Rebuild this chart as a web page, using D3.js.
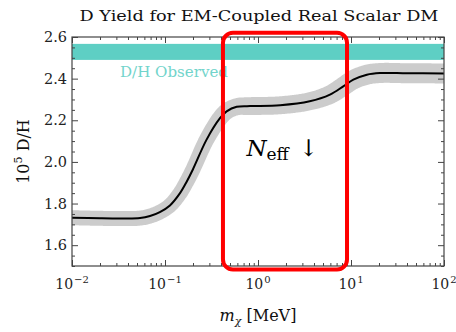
<!DOCTYPE html>
<html>
<head>
<meta charset="utf-8">
<script src="https://cdn.jsdelivr.net/npm/d3@7"></script>
<style>
  body { margin: 0; background: #fff; }
  text { font-family: "DejaVu Serif", serif; }
</style>
</head>
<body>
<div id="graph"></div>
<script>
// Yield curve (mass in MeV, 10^5 D/H)
var massValues = [0.01, 0.02, 0.035, 0.054, 0.069, 0.088, 0.113, 0.145, 0.171, 0.2, 0.28, 0.39, 0.46, 0.59, 0.82, 1.73, 3.6, 5.94, 8.26, 10.6, 14.8, 20.5, 40, 100];
var yieldValues = [1.732, 1.729, 1.728, 1.73, 1.74, 1.759, 1.791, 1.85, 1.905, 1.965, 2.107, 2.21, 2.243, 2.265, 2.268, 2.272, 2.291, 2.323, 2.363, 2.395, 2.419, 2.427, 2.426, 2.425];
// half width of the grey uncertainty band at each point (10^5 D/H)
var bandHalf = [0.036, 0.036, 0.036, 0.036, 0.036, 0.036, 0.036, 0.036, 0.036, 0.036, 0.037, 0.039, 0.04, 0.041, 0.043, 0.043, 0.043, 0.045, 0.046, 0.047, 0.048, 0.048, 0.048, 0.048];
var observedBand = [2.49, 2.567];
var xTickValues = [0.01, 0.1, 1, 10, 100];
var xTickLabels = ["−2", "−1", "0", "1", "2"];
var yTickValues = [1.6, 1.8, 2.0, 2.2, 2.4, 2.6];
var boxMass = [0.42, 9.06];
var boxYield = [1.483, 2.62];

var margin = {top: 37, right: 12, bottom: 66, left: 72},
  width = 456 - margin.left - margin.right,
  height = 332 - margin.top - margin.bottom;

var x = d3.scaleLog().domain([0.01, 100]).range([0, width]);
var y = d3.scaleLinear().domain([1.5, 2.6]).range([height, 0]);

var axisColor = "#444";

var svg = d3.select("#graph")
  .append("svg")
  .attr("width", 456)
  .attr("height", 332);

var g = svg.append("g")
  .attr("transform", "translate(" + margin.left + "," + margin.top + ")");

g.append("clipPath").attr("id", "clip")
  .append("rect").attr("width", width).attr("height", height);

var data = massValues.map(function (m, i) {
  return {m: m, v: yieldValues[i], e: bandHalf[i]};
});

// observed band
g.append("rect")
  .attr("x", 0)
  .attr("width", width)
  .attr("y", y(observedBand[1]))
  .attr("height", y(observedBand[0]) - y(observedBand[1]))
  .attr("fill", "#5ecfc4");

g.append("text")
  .attr("x", x(0.125))
  .attr("y", y(2.41))
  .attr("text-anchor", "middle")
  .attr("fill", "#72d4cb")
  .attr("textLength", 108)
  .attr("lengthAdjust", "spacingAndGlyphs")
  .style("font-size", "15px")
  .text("D/H Observed");

var line = d3.line()
  .x(function (d) { return x(d.m); })
  .y(function (d) { return y(d.v); })
  .curve(d3.curveCatmullRom.alpha(0.5));

var plot = g.append("g").attr("clip-path", "url(#clip)");

var band = plot.append("path")
  .attr("fill", "#cccccc");

var curve = plot.append("path")
  .datum(data)
  .attr("fill", "none")
  .attr("stroke", "#000")
  .attr("stroke-width", 2)
  .attr("d", line);

// grey band: offset the drawn curve along its normal by the band half width
var node = curve.node();
var total = node.getTotalLength();
var halfAt = d3.scaleLinear()
  .domain(massValues.map(function (m) { return Math.log10(m); }))
  .range(bandHalf.map(function (e) { return y(0) - y(e); }));
var upper = [], lower = [];
var steps = 400;
for (var i = 0; i <= steps; i++) {
  var p = node.getPointAtLength(total * i / steps);
  var a = node.getPointAtLength(Math.max(0, total * i / steps - 1));
  var b = node.getPointAtLength(Math.min(total, total * i / steps + 1));
  var dx = b.x - a.x, dy = b.y - a.y, len = Math.sqrt(dx * dx + dy * dy) || 1;
  var w = halfAt(Math.log10(x.invert(p.x)));
  var nx = -dy / len, ny = dx / len;
  upper.push([p.x + nx * w, p.y + ny * w]);
  lower.push([p.x - nx * w, p.y - ny * w]);
}
// extend beyond the frame so the clip gives straight ends
upper.unshift([upper[0][0] - 20, upper[0][1]]);
lower.unshift([lower[0][0] - 20, lower[0][1]]);
upper.push([upper[upper.length - 1][0] + 20, upper[upper.length - 1][1]]);
lower.push([lower[lower.length - 1][0] + 20, lower[lower.length - 1][1]]);
band.attr("d", d3.line()(upper.concat(lower.reverse())) + "Z");

// axes, ticks inward on all sides
var minorX = [];
[0.01, 0.1, 1, 10].forEach(function (d) {
  for (var k = 2; k <= 9; k++) minorX.push(d * k);
});
var minorY = d3.range(1.5, 2.6001, 0.05).filter(function (v) {
  return yTickValues.every(function (t) { return Math.abs(t - v) > 1e-6; });
});

function styleAxis(sel) {
  sel.select(".domain").remove();
  sel.selectAll("line").attr("stroke", axisColor);
}

function addAxis(axis, transform, values, size) {
  var a = g.append("g");
  if (transform) a.attr("transform", transform);
  a.call(axis.tickValues(values).tickSize(-size).tickFormat(""));
  styleAxis(a);
}

addAxis(d3.axisBottom(x), "translate(0," + height + ")", xTickValues, 6);
addAxis(d3.axisBottom(x), "translate(0," + height + ")", minorX, 3);
addAxis(d3.axisTop(x), null, xTickValues, 6);
addAxis(d3.axisTop(x), null, minorX, 3);
addAxis(d3.axisLeft(y), null, yTickValues, 6);
addAxis(d3.axisLeft(y), null, minorY, 3);
addAxis(d3.axisRight(y), "translate(" + width + ",0)", yTickValues, 6);
addAxis(d3.axisRight(y), "translate(" + width + ",0)", minorY, 3);

g.append("rect")
  .attr("width", width)
  .attr("height", height)
  .attr("fill", "none")
  .attr("stroke", axisColor)
  .attr("stroke-width", 1.2);

// tick labels
g.selectAll(".xlab")
  .data(xTickValues)
  .enter()
  .append("text")
  .attr("class", "xlab")
  .attr("x", function (d) { return x(d); })
  .attr("y", height + 23)
  .attr("text-anchor", "middle")
  .attr("fill", "#222")
  .style("font-size", "14px")
  .each(function (d, i) {
    var t = d3.select(this);
    t.append("tspan").text("10");
    t.append("tspan").attr("dy", -6).attr("dx", 1).style("font-size", "10px").text(xTickLabels[i]);
  });

g.selectAll(".ylab")
  .data(yTickValues)
  .enter()
  .append("text")
  .attr("class", "ylab")
  .attr("x", -5)
  .attr("y", function (d) { return y(d) + 5; })
  .attr("text-anchor", "end")
  .attr("fill", "#222")
  .style("font-size", "14.5px")
  .text(function (d) { return d.toFixed(1); });

// title and axis labels
svg.append("text")
  .attr("x", margin.left + width / 2 + 1)
  .attr("y", 21)
  .attr("text-anchor", "middle")
  .attr("fill", "#111")
  .attr("textLength", 359)
  .attr("lengthAdjust", "spacingAndGlyphs")
  .style("font-size", "14.5px")
  .text("D Yield for EM-Coupled Real Scalar DM");

var xLabel = svg.append("text")
  .attr("x", margin.left + width / 2)
  .attr("y", 321)
  .attr("text-anchor", "middle")
  .attr("fill", "#111")
  .style("font-size", "16px");
xLabel.append("tspan").style("font-style", "italic").text("m");
xLabel.append("tspan").attr("dy", 4).style("font-size", "11px").style("font-style", "italic").text("χ");
xLabel.append("tspan").attr("dy", -4).text(" [MeV]");

var yLabel = svg.append("text")
  .attr("transform", "translate(29," + (margin.top + y(2.05)) + ") rotate(-90)")
  .attr("text-anchor", "middle")
  .attr("fill", "#111")
  .style("font-size", "16px");
yLabel.append("tspan").text("10");
yLabel.append("tspan").attr("dy", -7).style("font-size", "11px").text("5");
yLabel.append("tspan").attr("dy", 7).text(" D/H");

// red box annotation
g.append("rect")
  .attr("x", x(boxMass[0]))
  .attr("y", y(boxYield[1]))
  .attr("width", x(boxMass[1]) - x(boxMass[0]))
  .attr("height", y(boxYield[0]) - y(boxYield[1]))
  .attr("rx", 10)
  .attr("fill", "none")
  .attr("stroke", "#ff0000")
  .attr("stroke-width", 4);

var neff = g.append("text")
  .attr("x", x(0.75))
  .attr("y", y(2.027))
  .attr("fill", "#000")
  .style("font-size", "23px");
neff.append("tspan").style("font-style", "italic").text("N");
neff.append("tspan").attr("dy", 4).style("font-size", "17px").text("eff");
neff.append("tspan").attr("dy", -4).attr("dx", 10).text("↓");
</script>
</body>
</html>
